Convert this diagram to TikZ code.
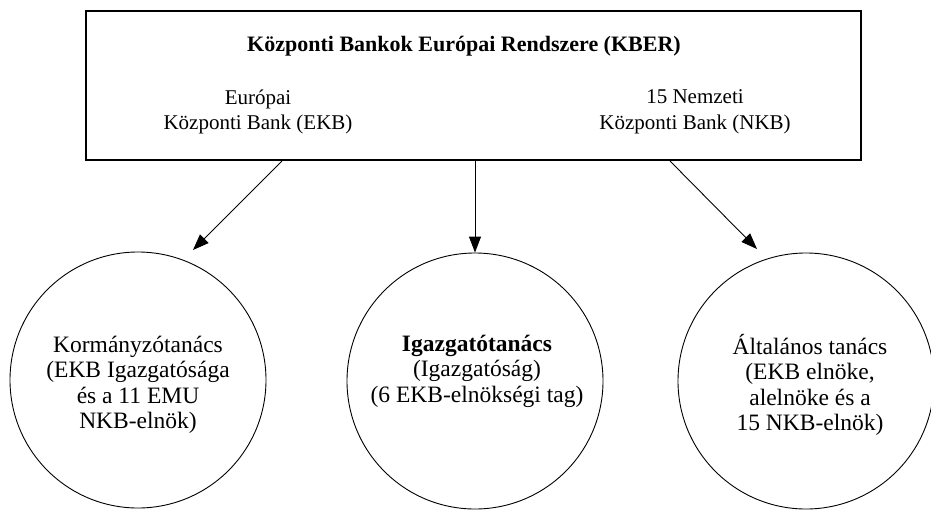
\documentclass[tikz,border=0pt]{standalone}
\usepackage{fontspec}
\setmainfont{Liberation Serif}
\usetikzlibrary{arrows.meta}
\begin{document}
\begin{tikzpicture}[x=1pt,y=-1pt,
  box/.style={draw, line width=1.3pt, minimum width=775pt, minimum height=149pt, inner sep=0pt},
  council/.style={draw, circle, line width=0.9pt, minimum size=256pt, inner sep=0pt},
  lbl/.style={align=center, inner sep=0pt, font=\fontsize{21}{25.5}\selectfont},
  clbl/.style={align=center, inner sep=0pt, font=\fontsize{23.5}{25.5}\selectfont},
  ttl/.style={inner sep=0pt, font=\fontsize{22}{26}\selectfont\bfseries},
  arr/.style={line width=0.9pt, -{Triangle[length=16pt,width=12pt]}}]
\useasboundingbox (0,0) rectangle (931,509);
% main box
\node[box] (kber) at (473.5,85.5) {};
\node[ttl] (title) at (464,46) {Központi Bankok Európai Rendszere (KBER)};
\node[lbl] (ekb) at (258,112) {Európai\\Központi Bank (EKB)};
\node[lbl] (nkb) at (695,112) {15 Nemzeti\\Központi Bank (NKB)};
% circles
\node[council] (c1) at (138,380) {};
\node[council] (c2) at (475,381) {};
\node[council] (c3) at (806,381) {};
\node[clbl] (t1) at (138,385) {Kormányzótanács\\(EKB Igazgatósága\\és a 11 EMU\\NKB-elnök)};
\node[clbl] (t2) at (477,371) {\textbf{Igazgatótanács}\\(Igazgatóság)\\(6 EKB-elnökségi tag)};
\node[clbl] (t3) at (810,385) {Általános tanács\\(EKB elnöke,\\alelnöke és a\\15 NKB-elnök)};
% connectors
\coordinate (s1) at (282,161);
\coordinate (e1) at (193,250);
\coordinate (s3) at (670,161);
\coordinate (e3) at (757,249);
\draw[arr] (s1) -- (e1);
\draw[arr] (kber.south -| c2) -- (c2.north);
\draw[arr] (s3) -- (e3);
\end{tikzpicture}
\end{document}
